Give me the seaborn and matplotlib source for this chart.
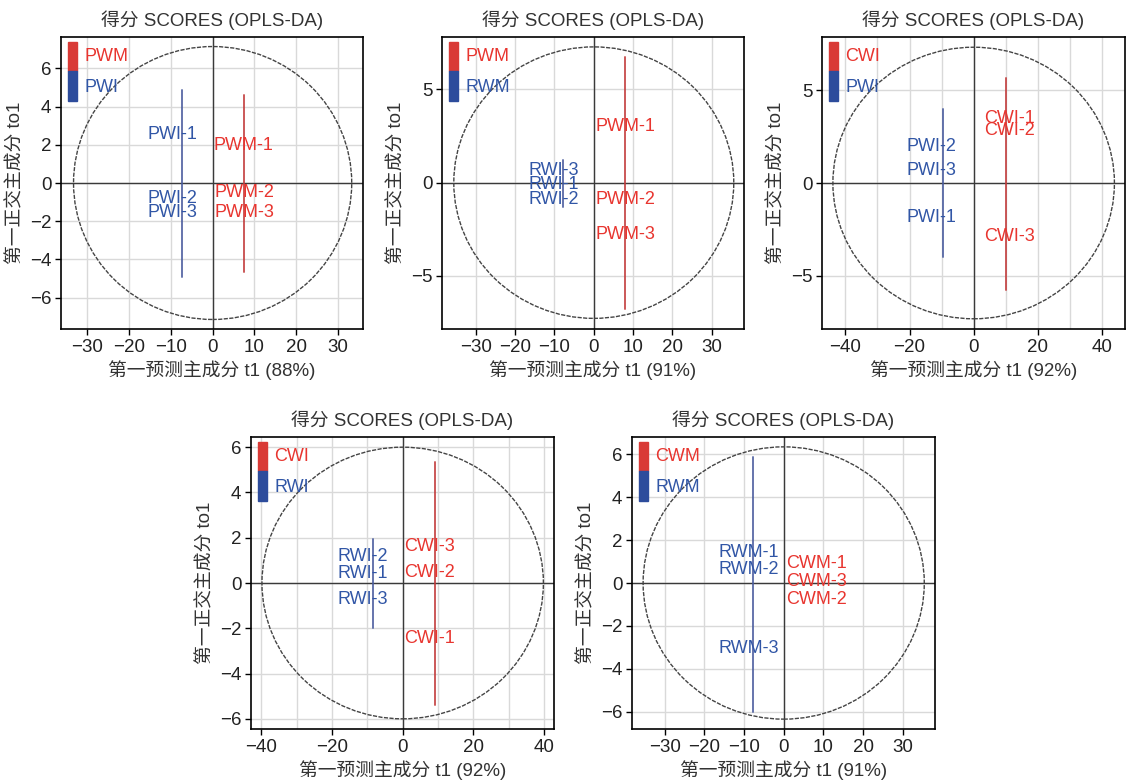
import matplotlib
matplotlib.use("Agg")
import matplotlib.pyplot as plt
from matplotlib.patches import Ellipse, Rectangle
from matplotlib.ticker import MultipleLocator
import pandas as pd
import seaborn as sns

# ---- data ----
# panel 1: PWM vs PWI
p1_groups = ["PWM", "PWI"]
p1_labels = ["PWM-1", "PWM-2", "PWM-3", "PWI-1", "PWI-2", "PWI-3"]
p1_t1 = [7.4, 7.6, 7.6, -9.7, -9.6, -9.6]
p1_to1 = [1.95, -0.49, -1.56, 2.52, -0.80, -1.56]
p1_line_t1 = [7.6, -7.3]
p1_line_lo = [-4.65, -4.9]
p1_line_hi = [4.6, 4.87]
p1_ellipse = [33.3, 7.15]
p1_pct = 88

# panel 2: PWM vs RWM
p2_groups = ["PWM", "RWM"]
p2_labels = ["PWM-1", "PWM-2", "PWM-3", "RWI-3", "RWI-1", "RWI-2"]
p2_t1 = [8.1, 8.1, 8.1, -10.2, -10.2, -10.2]
p2_to1 = [3.0, -0.93, -2.76, 0.64, -0.09, -0.93]
p2_line_t1 = [7.96, -7.9]
p2_line_lo = [-6.78, -1.29]
p2_line_hi = [6.75, 1.22]
p2_ellipse = [35.6, 7.27]
p2_pct = 91

# panel 3: CWI vs PWI
p3_groups = ["CWI", "PWI"]
p3_labels = ["CWI-1", "CWI-2", "CWI-3", "PWI-2", "PWI-3", "PWI-1"]
p3_t1 = [11.3, 11.3, 11.3, -13.1, -13.1, -13.1]
p3_to1 = [3.48, 2.80, -2.89, 1.95, 0.66, -1.84]
p3_line_t1 = [9.97, -9.5]
p3_line_lo = [-5.75, -3.96]
p3_line_hi = [5.66, 4.0]
p3_ellipse = [43.9, 7.3]
p3_pct = 92

# panel 4: CWI vs RWI
p4_groups = ["CWI", "RWI"]
p4_labels = ["CWI-3", "CWI-2", "CWI-1", "RWI-2", "RWI-1", "RWI-3"]
p4_t1 = [7.7, 7.7, 7.7, -11.2, -11.2, -11.2]
p4_to1 = [1.6, 0.46, -2.47, 1.19, 0.40, -0.71]
p4_line_t1 = [9.1, -8.5]
p4_line_lo = [-5.39, -1.97]
p4_line_hi = [5.33, 1.93]
p4_ellipse = [39.8, 6.0]
p4_pct = 92

# panel 5: CWM vs RWM (no red line visible)
p5_groups = ["CWM", "RWM"]
p5_labels = ["CWM-1", "CWM-3", "CWM-2", "RWM-1", "RWM-2", "RWM-3"]
p5_t1 = [8.3, 8.3, 8.3, -8.75, -8.75, -8.75]
p5_to1 = [0.89, 0.06, -0.75, 1.43, 0.61, -3.05]
p5_line_t1 = [None, -7.8]
p5_line_lo = [None, -6.0]
p5_line_hi = [None, 5.89]
p5_ellipse = [35.4, 6.35]
p5_pct = 91

TXT_RED = "#e8352f"
TXT_BLUE = "#3156a6"
LINE_RED = "#c23b3b"
LINE_BLUE = "#4a5c9e"
FS = 13.5

sns.set_theme(style="white")
plt.rcParams["font.family"] = ["Liberation Sans", "Noto Sans CJK SC", "DejaVu Sans"]
plt.rcParams["axes.unicode_minus"] = True

fig = plt.figure(figsize=(11.31, 7.80), dpi=100)


def draw_panel(rect, groups, labels, t1, to1, line_t1, line_lo, line_hi,
               ellipse, pct, xlim, ylim, xstep, ystep, xgrid):
    ax = fig.add_axes(rect)
    ax.set_xlim(*xlim)
    ax.set_ylim(*ylim)

    # grid, axes through origin
    ax.xaxis.set_major_locator(MultipleLocator(xstep))
    ax.yaxis.set_major_locator(MultipleLocator(ystep))
    ax.xaxis.set_minor_locator(MultipleLocator(xgrid))
    ax.grid(True, which="both", axis="x", color="#d9d9d9", lw=1.0)
    ax.grid(True, which="major", axis="y", color="#d9d9d9", lw=1.0)
    ax.axhline(0, color="#3a3a3a", lw=1.0, zorder=1)
    ax.axvline(0, color="#3a3a3a", lw=1.0, zorder=1)

    ax.add_patch(Ellipse((0, 0), 2 * ellipse[0], 2 * ellipse[1], fill=False,
                         ec="#444444", lw=1.0, ls=(0, (3, 1)), zorder=2))

    # group lines
    for x, lo, hi, c in zip(line_t1, line_lo, line_hi, [LINE_RED, LINE_BLUE]):
        if x is None:
            continue
        d = pd.DataFrame({"t1": [x, x], "to1": [lo, hi]})
        sns.lineplot(data=d, x="t1", y="to1", estimator=None, sort=False,
                     color=c, lw=1.4, alpha=0.85, ax=ax, zorder=3)

    # sample labels (red = first group, except labels of the second group)
    for name, x, y in zip(labels, t1, to1):
        c = TXT_RED if name.startswith(groups[0]) else TXT_BLUE
        ax.text(x, y, name, color=c, fontsize=FS - 0.5, ha="center",
                va="center", zorder=4)

    # legend colour bar
    ax.add_patch(Rectangle((0.022, 0.884), 0.032, 0.098, transform=ax.transAxes,
                           color="#d93a36", zorder=5))
    ax.add_patch(Rectangle((0.022, 0.782), 0.032, 0.102, transform=ax.transAxes,
                           color="#2d4c9c", zorder=5))
    ax.text(0.077, 0.933, groups[0], color=TXT_RED, fontsize=FS - 0.5,
            transform=ax.transAxes, va="center", zorder=5)
    ax.text(0.077, 0.828, groups[1], color=TXT_BLUE, fontsize=FS - 0.5,
            transform=ax.transAxes, va="center", zorder=5)

    for s in ax.spines.values():
        s.set_visible(True)
        s.set_color("black")
        s.set_linewidth(1.2)
    ax.tick_params(axis="both", which="major", direction="out", length=4,
                   width=1, color="black", labelsize=FS, labelcolor="#222222",
                   pad=3, bottom=True, left=True)
    ax.tick_params(axis="both", which="minor", length=0)
    ax.set_title("得分 SCORES (OPLS-DA)", fontsize=FS, color="#333333", pad=8)
    ax.set_xlabel(f"第一预测主成分 t1 ({pct}%)", fontsize=FS, color="#333333",
                  labelpad=3)
    ax.set_ylabel("第一正交主成分 to1", fontsize=FS, color="#333333",
                  labelpad=4)
    return ax


W, H = 1131, 780


def rect(x0, y0, x1, y1):
    return [x0 / W, 1 - y1 / H, (x1 - x0) / W, (y1 - y0) / H]


draw_panel(rect(61, 37, 363, 329), p1_groups, p1_labels, p1_t1, p1_to1,
           p1_line_t1, p1_line_lo, p1_line_hi, p1_ellipse, p1_pct,
           (-36.3, 36.0), (-7.65, 7.65), 10, 2, 10)
draw_panel(rect(442, 37, 744, 329), p2_groups, p2_labels, p2_t1, p2_to1,
           p2_line_t1, p2_line_lo, p2_line_hi, p2_ellipse, p2_pct,
           (-38.6, 38.2), (-7.84, 7.8), 10, 5, 10)
draw_panel(rect(822, 37, 1125, 329), p3_groups, p3_labels, p3_t1, p3_to1,
           p3_line_t1, p3_line_lo, p3_line_hi, p3_ellipse, p3_pct,
           (-47.3, 47.2), (-7.85, 7.85), 20, 5, 10)
draw_panel(rect(251, 437, 554, 729), p4_groups, p4_labels, p4_t1, p4_to1,
           p4_line_t1, p4_line_lo, p4_line_hi, p4_ellipse, p4_pct,
           (-42.9, 42.8), (-6.45, 6.45), 20, 2, 10)
draw_panel(rect(632, 437, 935, 729), p5_groups, p5_labels, p5_t1, p5_to1,
           p5_line_t1, p5_line_lo, p5_line_hi, p5_ellipse, p5_pct,
           (-38.2, 38.1), (-6.81, 6.81), 10, 2, 10)

fig.savefig("out.png", dpi=100)
